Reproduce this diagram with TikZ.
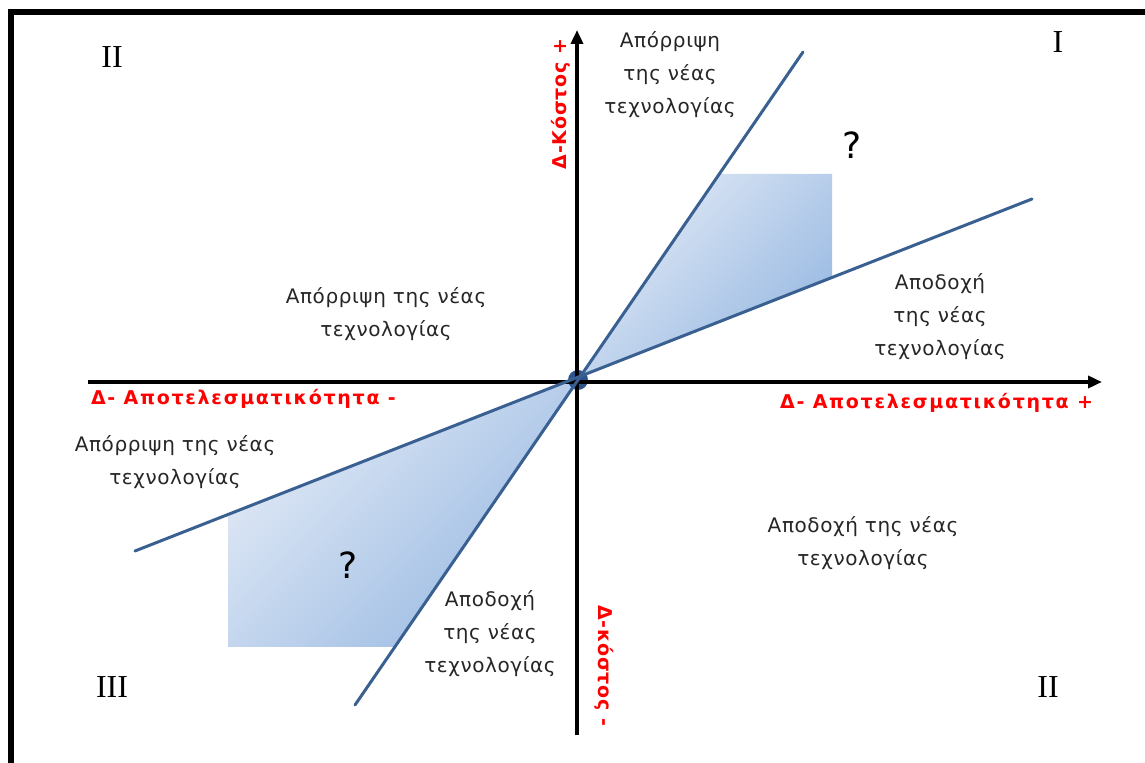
\documentclass[tikz,border=0pt]{standalone}
\usepackage{fontspec}
\setmainfont{DejaVu Sans}
\newfontfamily\spacedfont[LetterSpace=3]{DejaVu Sans}
\newfontfamily\redfont[LetterSpace=9]{DejaVu Sans}
\newfontfamily\upfont[LetterSpace=4]{DejaVu Sans}
\newfontfamily\numfont{Liberation Serif}
\usetikzlibrary{arrows.meta, calc}
\definecolor{linesblue}{RGB}{58, 96, 146}
\definecolor{shadelight}{RGB}{226, 234, 246}
\definecolor{shadedark}{RGB}{152, 185, 226}
\definecolor{axisred}{RGB}{255, 0, 0}
\definecolor{dotblue}{RGB}{45, 85, 140}

\tikzset{
  axisline/.style={line width=2pt, -{Triangle[length=7pt, width=6pt]}},
  decision/.style={align=center, text=black!85, font=\spacedfont\fontsize{10}{16.5}\selectfont},
  axislabel/.style={text=axisred, font=\redfont\bfseries\fontsize{9.5}{11}\selectfont},
  costlabel/.style={text=axisred, font=\upfont\bfseries\fontsize{9.5}{11}\selectfont},
  quadrant/.style={font=\numfont\fontsize{16}{18}\selectfont},
  ratioline/.style={draw=linesblue, line width=1.5pt, line cap=round},
  unknown/.style={font=\fontsize{18}{20}\selectfont},
  zone/.style={top color=shadelight, bottom color=shadedark, shading angle=45},
}

\begin{document}
\begin{tikzpicture}[x=0.5pt, y=-0.5pt]
  \useasboundingbox (0,0) rectangle (1145,763);

  % frame
  \draw[line width=3pt] (1145,12) -| (11,763);

  % line ends and crossing
  \coordinate (cross) at (580,376);
  \coordinate (steeptop) at (803,52);
  \coordinate (steepbot) at (355,705);
  \coordinate (flatleft) at (135,551);
  \coordinate (flatright) at (1032,199);

  % shaded zones
  \shade[zone] (cross) -- (719,174) -- (832,174) -- (832,277) -- cycle;
  \shade[zone] (cross) -- (228,514) -- (228,647) -- (395,647) -- cycle;

  \fill[dotblue] (578,380) circle (5pt);

  % axes
  \coordinate (xmin) at (88,382);
  \coordinate (xmax) at (1102,382);
  \coordinate (ymin) at (577,735);
  \coordinate (ymax) at (577,30);
  \draw[axisline] (xmin) -- (xmax);
  \draw[axisline] (ymin) -- (ymax);

  \draw[ratioline] (steepbot) -- (steeptop);
  \draw[ratioline] (flatleft) -- (flatright);

  % axis labels
  \node[axislabel, anchor=west] (effminus) at (84,399) {Δ- Αποτελεσματικότητα -};
  \node[axislabel, anchor=east] (effplus) at (1100,403) {Δ- Αποτελεσματικότητα +};
  \node[costlabel, rotate=90, anchor=east] (costplus) at (561,32) {Δ-Κόστος +};
  \node[costlabel, rotate=-90, anchor=west] (costminus) at (604,598) {Δ-κόστος -};

  % decisions
  \node[decision] (rejtop) at (670,75) {Απόρριψη\\της νέας\\τεχνολογίας};
  \node[decision] (rejmid) at (386,314) {Απόρριψη της νέας\\τεχνολογίας};
  \node[decision] (accright) at (940,317) {Αποδοχή\\της νέας\\τεχνολογίας};
  \node[decision] (rejleft) at (175,462) {Απόρριψη της νέας\\τεχνολογίας};
  \node[decision] (acclow) at (863,543) {Αποδοχή της νέας\\τεχνολογίας};
  \node[decision] (accbot) at (490,634) {Αποδοχή\\της νέας\\τεχνολογίας};

  \node[unknown] (qtop) at (852,145) {?};
  \node[unknown] (qbot) at (348,565) {?};

  % quadrants
  \node[quadrant] (qII) at (112,57) {II};
  \node[quadrant] (qI) at (1058,42) {I};
  \node[quadrant] (qIII) at (112,687) {III};
  \node[quadrant] (qIIb) at (1048,687) {II};
\end{tikzpicture}
\end{document}
